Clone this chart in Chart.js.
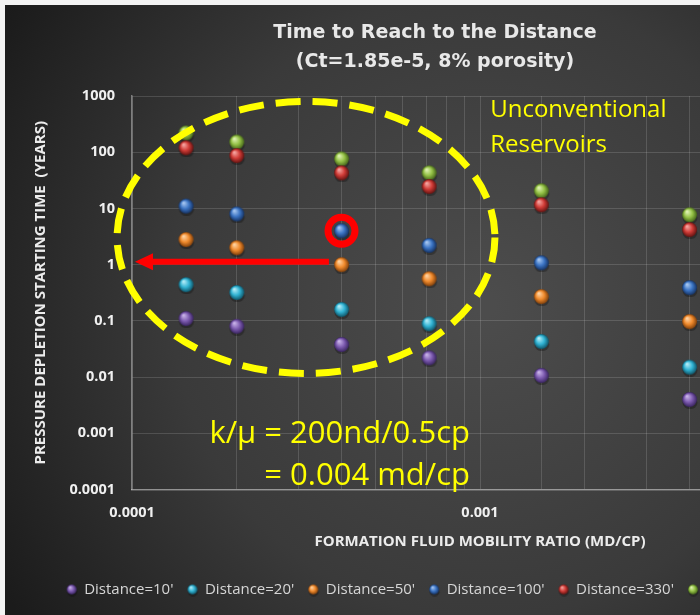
<!DOCTYPE html>
<html>
<head>
<meta charset="utf-8">
<title>Time to Reach to the Distance</title>
<script src="https://cdn.jsdelivr.net/npm/chart.js@4.4.1/dist/chart.umd.min.js"></script>
<style>
    html, body { margin: 0; padding: 0; width: 700px; height: 615px; overflow: hidden; background: #f3f3f3; }
    #wrap { position: absolute; left: 5px; top: 5px; }
</style>
</head>
<body>
<div id="wrap"><canvas id="depletion-chart" width="865" height="610"></canvas></div>
<script>
// formation fluid mobility ratio (md/cp), one per column of points
const mobility = [0.000143, 0.0002, 0.0004, 0.000714, 0.0015, 0.004];

const distanceLabels = ["Distance=10'", "Distance=20'", "Distance=50'", "Distance=100'", "Distance=330'", "Distance=440'"];

// pressure depletion starting time (years) for each distance
const years10 = [0.11, 0.08, 0.038, 0.022, 0.0107, 0.004];
const years20 = [0.44, 0.32, 0.16, 0.089, 0.043, 0.015];
const years50 = [2.8, 2.0, 1.0, 0.56, 0.27, 0.097];
const years100 = [11, 8.0, 4.0, 2.2, 1.08, 0.39];
const years330 = [120, 87, 43, 24.5, 11.6, 4.2];
const years440 = [220, 152, 76, 43, 20.6, 7.7];

const yTicks = [0.0001, 0.001, 0.01, 0.1, 1, 10, 100, 1000];
const yTickLabels = ['0.0001', '0.001', '0.01', '0.1', '1', '10', '100', '1000'];
const xDecades = [0.0001, 0.001, 0.01];
const xTickLabels = ['0.0001', '0.001', '0.01'];

const seriesYears = [years10, years20, years50, years100, years330, years440];

// light / base / dark shade for the glossy balls
const ballColors = [
    ['#cbb6ea', '#7d5bb0', '#3a2560'],
    ['#b8eef8', '#31b3d3', '#10566a'],
    ['#ffd6a8', '#f08a2c', '#80400c'],
    ['#abcaf2', '#3b74c4', '#163363'],
    ['#f7aaa6', '#d03b36', '#621412'],
    ['#e2f4b8', '#94c145', '#44641a']
];

function makeBall([light, base, dark], d) {
    const size = d + 4;
    const c = document.createElement('canvas');
    c.width = size;
    c.height = size;
    const g = c.getContext('2d');
    const cx = size / 2, cy = size / 2, r = d / 2;
    // soft shadow under the ball
    g.fillStyle = 'rgba(0,0,0,0.28)';
    g.beginPath();
    g.ellipse(cx + 0.5, cy + r * 0.3 + 1, r, r * 0.85, 0, 0, Math.PI * 2);
    g.fill();
    const grad = g.createRadialGradient(cx - r * 0.35, cy - r * 0.45, r * 0.05, cx, cy, r);
    grad.addColorStop(0, light);
    grad.addColorStop(0.55, base);
    grad.addColorStop(1, dark);
    g.fillStyle = grad;
    g.beginPath();
    g.arc(cx, cy, r, 0, Math.PI * 2);
    g.fill();
    return c;
}

const pointBalls = ballColors.map(c => makeBall(c, 15));
const legendBalls = ballColors.map(c => makeBall(c, 10));

const backdrop = {
    id: 'backdrop',
    beforeDraw(chart) {
        const { ctx, width, height } = chart;
        const g = ctx.createRadialGradient(480, 300, 10, 480, 300, 560);
        g.addColorStop(0, '#4c4c4c');
        g.addColorStop(0.55, '#3a3a3a');
        g.addColorStop(1, '#1b1b1b');
        ctx.save();
        ctx.fillStyle = g;
        ctx.fillRect(0, 0, width, height);
        ctx.restore();
    }
};

// yellow ellipse, red arrow / ring and the yellow notes
const notes = {
    id: 'notes',
    afterDraw(chart) {
        const { ctx, scales: { x, y } } = chart;
        ctx.save();

        const left = x.getPixelForValue(9.06e-5), right = x.getPixelForValue(1.104e-3);
        const top = y.getPixelForValue(802), bottom = y.getPixelForValue(0.0116);
        ctx.strokeStyle = '#ffff00';
        ctx.lineWidth = 7;
        ctx.setLineDash([25, 12]);
        ctx.beginPath();
        ctx.ellipse((left + right) / 2, (top + bottom) / 2, (right - left) / 2, (bottom - top) / 2, 0, 0, Math.PI * 2);
        ctx.stroke();
        ctx.setLineDash([]);

        const ay = y.getPixelForValue(1.126);
        const tail = x.getPixelForValue(3.68e-4), tip = x.getPixelForValue(1.02e-4);
        ctx.strokeStyle = '#ff0000';
        ctx.fillStyle = '#ff0000';
        ctx.lineWidth = 6;
        ctx.beginPath();
        ctx.moveTo(tail, ay);
        ctx.lineTo(tip + 14, ay);
        ctx.stroke();
        ctx.beginPath();
        ctx.moveTo(tip, ay);
        ctx.lineTo(tip + 18, ay - 8.5);
        ctx.lineTo(tip + 18, ay + 8.5);
        ctx.closePath();
        ctx.fill();

        ctx.lineWidth = 7;
        ctx.beginPath();
        ctx.arc(x.getPixelForValue(mobility[2]), y.getPixelForValue(years100[2]), 13.5, 0, Math.PI * 2);
        ctx.stroke();

        ctx.fillStyle = '#ffff00';
        ctx.textBaseline = 'middle';
        ctx.textAlign = 'left';
        ctx.font = '24px "Open Sans"';
        const ux = x.getPixelForValue(1.07e-3);
        ctx.fillText('Unconventional', ux, y.getPixelForValue(564));
        ctx.fillText('Reservoirs', ux, y.getPixelForValue(134.6));

        ctx.textAlign = 'right';
        ctx.font = '31px "Open Sans"';
        const kx = x.getPixelForValue(9.36e-4);
        ctx.fillText('k/\u00b5 = 200nd/0.5cp', kx, y.getPixelForValue(0.98e-3));
        ctx.fillText('= 0.004 md/cp', kx, y.getPixelForValue(1.75e-4));

        ctx.restore();
    }
};

const gridColor = 'rgba(255, 255, 255, 0.14)';
const axisColor = 'rgba(255, 255, 255, 0.38)';
const tickFont = { family: 'Open Sans', size: 14.5, weight: 'bold' };
const axisTitleFont = { family: 'Open Sans', size: 15, weight: 'bold' };

const ctx = document.querySelector('#depletion-chart').getContext('2d');

new Chart(ctx, {
    type: 'scatter',
    data: {
        datasets: seriesYears.map((years, i) => ({
            label: distanceLabels[i],
            data: mobility.map((m, j) => ({ x: m, y: years[j] })),
            pointStyle: pointBalls[i],
            showLine: false
        }))
    },
    options: {
        responsive: false,
        animation: false,
        events: [],
        layout: { padding: { left: 37, right: 42, top: 8, bottom: 8 } },
        plugins: {
            title: {
                display: true,
                text: ['Time to Reach to the Distance', '(Ct=1.85e-5, 8% porosity)'],
                color: '#e8e8e8',
                font: { family: 'DejaVu Sans', size: 19, weight: 'bold', lineHeight: 1.5 },
                padding: { top: 6, bottom: 20 }
            },
            legend: {
                position: 'bottom',
                labels: {
                    usePointStyle: true,
                    boxWidth: 10,
                    boxHeight: 10,
                    padding: 14,
                    color: '#d6d6d6',
                    font: { family: 'Open Sans', size: 15 },
                    generateLabels(chart) {
                        const items = Chart.defaults.plugins.legend.labels.generateLabels(chart);
                        items.forEach(item => { item.pointStyle = legendBalls[item.datasetIndex]; });
                        return items;
                    }
                }
            },
            tooltip: { enabled: false }
        },
        scales: {
            x: {
                type: 'logarithmic',
                min: 0.0001,
                max: 0.01,
                grid: { color: gridColor, drawTicks: false },
                border: { color: axisColor, width: 1.5 },
                ticks: {
                    color: '#f0f0f0',
                    font: tickFont,
                    padding: 15,
                    autoSkip: false,
                    maxRotation: 0,
                    callback: (value) => {
                        const i = xDecades.findIndex(d => Math.abs(d - value) / d < 1e-6);
                        return i >= 0 ? xTickLabels[i] : '';
                    }
                },
                title: {
                    display: true,
                    text: 'FORMATION FLUID MOBILITY RATIO (MD/CP)',
                    color: '#ececec',
                    font: axisTitleFont,
                    padding: { top: 0, bottom: 17.5 }
                },
                afterFit: (scale) => { scale.height = 78.5; }
            },
            y: {
                type: 'logarithmic',
                min: 0.0001,
                max: 1000,
                grid: { color: gridColor, drawTicks: false },
                border: { color: axisColor, width: 1.5 },
                afterBuildTicks: (scale) => { scale.ticks = yTicks.map(v => ({ value: v })); },
                ticks: {
                    color: '#f0f0f0',
                    font: tickFont,
                    padding: 17,
                    callback: (value) => {
                        const i = yTicks.findIndex(d => Math.abs(d - value) / d < 1e-6);
                        return i >= 0 ? yTickLabels[i] : '';
                    }
                },
                title: {
                    display: true,
                    text: 'PRESSURE DEPLETION STARTING TIME  (YEARS)',
                    color: '#ececec',
                    font: axisTitleFont,
                    padding: { top: -10, bottom: 0 }
                },
                afterFit: (scale) => { scale.width = 90; }
            }
        }
    },
    plugins: [backdrop, notes]
});
</script>
</body>
</html>
